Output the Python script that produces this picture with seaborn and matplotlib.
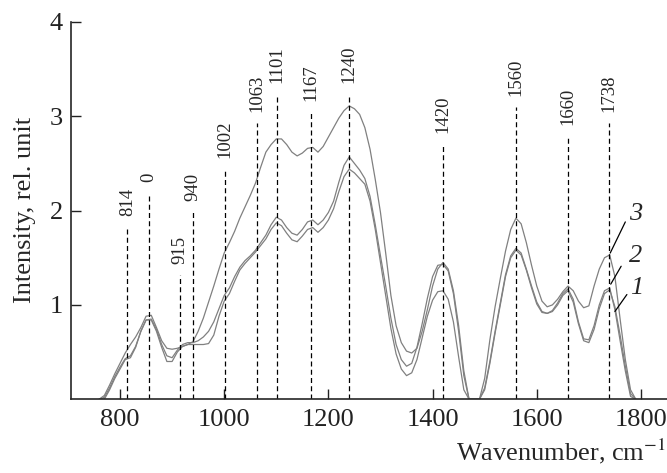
import numpy as np
import pandas as pd
import matplotlib
matplotlib.use("Agg")
import matplotlib.pyplot as plt
import seaborn as sns

# wavenumber grid, cm^-1
wavenumber = list(range(760, 1800, 10))

# curve 3 (upper)
curve3 = [0.00, 0.04, 0.15, 0.27, 0.38, 0.49, 0.58, 0.66, 0.76, 0.88,
          0.89, 0.76, 0.62, 0.54, 0.53, 0.54, 0.56, 0.58, 0.61, 0.72,
          0.86, 1.03, 1.20, 1.38, 1.55, 1.66, 1.78, 1.92, 2.04, 2.16,
          2.29, 2.46, 2.62, 2.70, 2.76, 2.76, 2.70, 2.62, 2.58, 2.61,
          2.66, 2.67, 2.62, 2.68, 2.78, 2.88, 2.98, 3.06, 3.11, 3.08,
          3.02, 2.88, 2.65, 2.33, 1.98, 1.55, 1.10, 0.78, 0.60, 0.51,
          0.49, 0.54, 0.72, 0.95, 1.20, 1.38, 1.45, 1.38, 1.15, 0.78,
          0.30, 0.00, 0.00, 0.00, 0.22, 0.63, 0.98, 1.28, 1.57, 1.80,
          1.92, 1.86, 1.66, 1.42, 1.20, 1.04, 0.98, 1.00, 1.06, 1.14,
          1.20, 1.15, 1.04, 0.97, 0.99, 1.20, 1.38, 1.50, 1.53, 1.30,
          0.85, 0.42, 0.10, 0.00]

# curve 2
curve2 = [0.00, 0.02, 0.12, 0.24, 0.34, 0.43, 0.46, 0.56, 0.72, 0.84,
          0.85, 0.74, 0.58, 0.46, 0.44, 0.52, 0.58, 0.60, 0.60, 0.62,
          0.66, 0.72, 0.82, 0.96, 1.10, 1.18, 1.30, 1.40, 1.47, 1.52,
          1.58, 1.66, 1.74, 1.85, 1.93, 1.90, 1.82, 1.76, 1.74, 1.80,
          1.88, 1.90, 1.85, 1.90, 1.98, 2.10, 2.30, 2.48, 2.57, 2.50,
          2.43, 2.34, 2.15, 1.85, 1.52, 1.20, 0.86, 0.58, 0.42, 0.35,
          0.38, 0.55, 0.80, 1.07, 1.30, 1.42, 1.43, 1.36, 1.12, 0.72,
          0.25, 0.00, 0.00, 0.00, 0.12, 0.40, 0.72, 1.02, 1.32, 1.52,
          1.60, 1.55, 1.38, 1.20, 1.03, 0.93, 0.91, 0.94, 1.02, 1.12,
          1.17, 1.06, 0.82, 0.64, 0.63, 0.78, 1.00, 1.15, 1.18, 0.95,
          0.62, 0.30, 0.03, 0.00]

# curve 1 (lower)
curve1 = [0.00, 0.00, 0.10, 0.22, 0.32, 0.42, 0.44, 0.55, 0.72, 0.84,
          0.84, 0.72, 0.55, 0.40, 0.40, 0.50, 0.56, 0.58, 0.58, 0.58,
          0.58, 0.59, 0.68, 0.88, 1.04, 1.12, 1.25, 1.37, 1.44, 1.50,
          1.56, 1.63, 1.70, 1.80, 1.87, 1.84, 1.76, 1.69, 1.67, 1.73,
          1.80, 1.82, 1.77, 1.82, 1.90, 2.02, 2.20, 2.36, 2.44, 2.40,
          2.34, 2.28, 2.10, 1.80, 1.45, 1.10, 0.75, 0.48, 0.32, 0.25,
          0.28, 0.42, 0.65, 0.88, 1.05, 1.14, 1.15, 1.06, 0.82, 0.45,
          0.10, 0.00, 0.00, 0.00, 0.10, 0.38, 0.70, 1.00, 1.30, 1.50,
          1.58, 1.53, 1.37, 1.18, 1.01, 0.92, 0.91, 0.93, 1.00, 1.10,
          1.15, 1.03, 0.80, 0.62, 0.60, 0.74, 0.96, 1.12, 1.16, 0.98,
          0.68, 0.35, 0.06, 0.00]

# marked bands: position, label, height of dashed line
band_pos = [814, 855, 915, 940, 1002, 1063, 1101, 1167, 1240, 1420, 1560, 1660, 1738]
band_label = ["814", "0", "915", "940", "1002", "1063", "1101", "1167", "1240",
              "1420", "1560", "1660", "1738"]
band_top = [1.82, 2.19, 1.32, 1.98, 2.44, 2.93, 3.24, 3.04, 3.24, 2.70, 3.10, 2.79, 2.93]

df = pd.concat([
    pd.DataFrame({"wn": wavenumber, "I": curve1, "curve": "1"}),
    pd.DataFrame({"wn": wavenumber, "I": curve2, "curve": "2"}),
    pd.DataFrame({"wn": wavenumber, "I": curve3, "curve": "3"}),
])

sns.set_style("ticks")
plt.rcParams["font.family"] = ["Liberation Serif", "DejaVu Serif"]
plt.rcParams["mathtext.fontset"] = "stix"

fig = plt.figure(figsize=(6.67, 4.73), dpi=100)
ax = fig.add_axes([0.1065, 0.156, 0.8935, 0.7975])

sns.lineplot(data=df, x="wn", y="I", hue="curve", units="curve", estimator=None,
             palette=["#808080"] * 3, linewidth=0.9, legend=False, ax=ax)

ax.vlines(band_pos, 0, band_top, colors="black", linewidth=0.9,
          linestyles=(0, (4, 2.6)))
for p, lab, t in zip(band_pos, band_label, band_top):
    ax.annotate(lab, xy=(p, t), xytext=(0, 8), textcoords="offset points",
                rotation=90, ha="center", va="bottom", fontsize=13.5)

# curve numbers with leader lines
ax.plot([1741, 1770], [1.55, 1.88], color="black", lw=0.9)
ax.plot([1742, 1762], [1.22, 1.41], color="black", lw=0.9)
ax.plot([1750, 1773], [0.93, 1.11], color="black", lw=0.9)
ax.text(1790, 1.96, "3", style="italic", fontsize=19, ha="center", va="center")
ax.text(1790, 1.52, "2", style="italic", fontsize=19, ha="center", va="center")
ax.text(1792, 1.18, "1", style="italic", fontsize=19, ha="center", va="center")

ax.set_xlim(706, 1850)
ax.set_ylim(0, 4)
ax.set_xticks([800, 1000, 1200, 1400, 1600, 1800])
ax.set_yticks([1, 2, 3, 4])
ax.tick_params(direction="in", length=7, width=1, labelsize=19, colors="#222222")
ax.tick_params(axis="x", pad=7)
ax.tick_params(axis="y", pad=6)
sns.despine(ax=ax)
ax.spines["left"].set_linewidth(1.2)
ax.spines["bottom"].set_linewidth(1.2)

ax.set_xlabel("")
ax.set_ylabel("")
fig.text(25 / 667, 0.5 + (210 - 236.5) / -473, "Intensity, rel. unit", rotation=90,
         ha="center", va="center", fontsize=19)
fig.text(0.998, 0.045, "Wavenumber, cm$^{-1}$", ha="right", va="center", fontsize=19)

fig.savefig("out.png", dpi=100)
